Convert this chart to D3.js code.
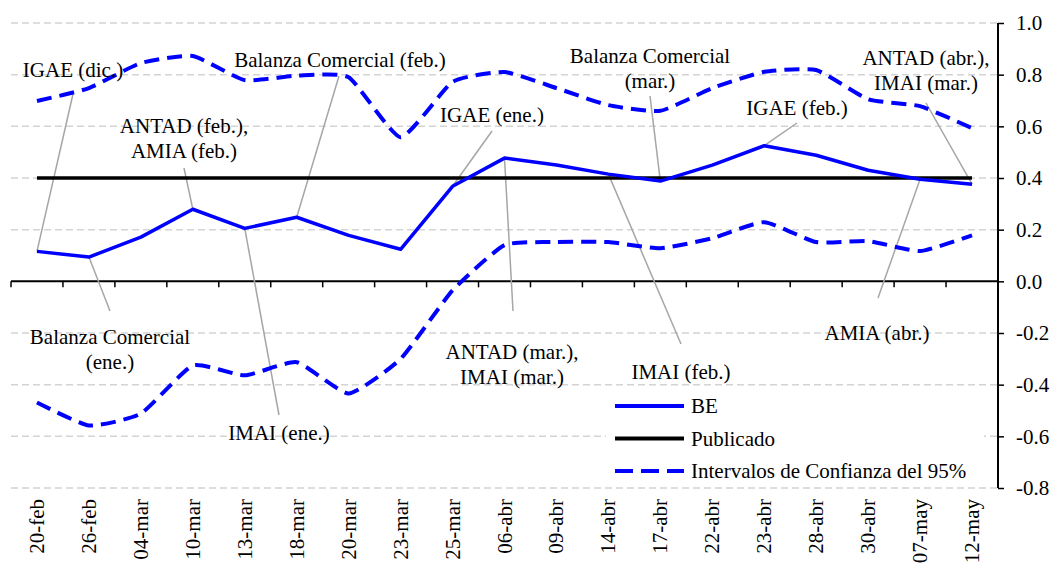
<!DOCTYPE html>
<html>
<head>
<meta charset="utf-8">
<script src="https://cdn.jsdelivr.net/npm/d3@7/dist/d3.min.js"></script>
<style>
  body { margin: 0; background: #fff; }
  svg { display: block; font-family: 'Liberation Serif', 'Times New Roman', serif; }
</style>
</head>
<body>
<script>
const width = 1052;
const height = 563;

const categories = ['20-feb', '26-feb', '04-mar', '10-mar', '13-mar', '18-mar', '20-mar', '23-mar', '25-mar',
  '06-abr', '09-abr', '14-abr', '17-abr', '22-abr', '23-abr', '28-abr', '30-abr', '07-may', '12-may'];

const be = [0.116, 0.094, 0.171, 0.279, 0.205, 0.248, 0.178, 0.124, 0.368,
  0.477, 0.450, 0.415, 0.388, 0.450, 0.525, 0.488, 0.430, 0.395, 0.376];

const publicado = categories.map(function () { return 0.4; });

const upper = [0.698, 0.748, 0.845, 0.872, 0.779, 0.796, 0.790, 0.558, 0.772,
  0.810, 0.748, 0.682, 0.660, 0.748, 0.811, 0.818, 0.705, 0.678, 0.593];

const lower = [-0.469, -0.558, -0.512, -0.326, -0.364, -0.313, -0.434, -0.300, -0.035,
  0.140, 0.152, 0.152, 0.128, 0.167, 0.229, 0.152, 0.156, 0.117, 0.178];

const yTicks = [-0.8, -0.6, -0.4, -0.2, 0.0, 0.2, 0.4, 0.6, 0.8, 1.0];

// annotation texts and the date they point at
const notes = [
  { cat: '20-feb', lines: ['IGAE (dic.)'] },
  { cat: '18-mar', lines: ['Balanza Comercial (feb.)'] },
  { cat: '10-mar', lines: ['ANTAD (feb.),', 'AMIA (feb.)'] },
  { cat: '25-mar', lines: ['IGAE (ene.)'] },
  { cat: '17-abr', lines: ['Balanza Comercial', '(mar.)'] },
  { cat: '23-abr', lines: ['IGAE (feb.)'] },
  { cat: '12-may', lines: ['ANTAD (abr.),', 'IMAI (mar.)'] },
  { cat: '26-feb', lines: ['Balanza Comercial', '(ene.)'] },
  { cat: '13-mar', lines: ['IMAI (ene.)'] },
  { cat: '06-abr', lines: ['ANTAD (mar.),', 'IMAI (mar.)'] },
  { cat: '14-abr', lines: ['IMAI (feb.)'] },
  { cat: '07-may', lines: ['AMIA (abr.)'] }
];

// where each label sits (text centre x, first line y, leader end)
const noteLayout = [
  { tx: 73, ty: 70, ex: 73, ey: 94 },
  { tx: 340, ty: 60, ex: 339, ey: 76 },
  { tx: 184, ty: 126, ex: 184, ey: 168 },
  { tx: 492, ty: 115, ex: 492, ey: 131 },
  { tx: 650, ty: 56, ex: 650, ey: 96 },
  { tx: 797, ty: 108, ex: 797, ey: 123 },
  { tx: 926, ty: 58, ex: 926, ey: 103 },
  { tx: 110, ty: 337, ex: 110, ey: 311 },
  { tx: 279, ty: 433, ex: 279, ey: 415 },
  { tx: 512, ty: 352, ex: 513, ey: 311 },
  { tx: 681, ty: 372, ex: 681, ey: 344 },
  { tx: 877, ty: 333, ex: 878, ey: 298 }
];

const plotLeft = 11;
const plotRight = 998;
const plotTop = 23;
const plotBottom = 488;
const fontSize = 21;
const serif = "'Liberation Serif', 'Times New Roman', serif";

const svg = d3.select('body').append('svg').attr('width', width).attr('height', height);

const x = d3.scaleBand().domain(categories).range([plotLeft, plotRight]).padding(0);
const y = d3.scaleLinear().domain([-0.8, 1.0]).range([plotBottom, plotTop]);
const cx = function (c) { return x(c) + x.bandwidth() / 2; };

// gridlines
svg.append('g')
  .selectAll('line')
  .data(yTicks.filter(function (t) { return t !== 0; }))
  .enter()
  .append('line')
  .attr('x1', plotLeft)
  .attr('x2', plotRight)
  .attr('y1', function (d) { return y(d); })
  .attr('y2', function (d) { return y(d); })
  .attr('stroke', '#d4d4d4')
  .attr('stroke-width', 1.5)
  .attr('stroke-dasharray', '7,4');

// zero axis with ticks at band edges
svg.append('line')
  .attr('x1', plotLeft).attr('x2', plotRight)
  .attr('y1', y(0)).attr('y2', y(0))
  .attr('stroke', '#000').attr('stroke-width', 2);

svg.append('g')
  .selectAll('line')
  .data(categories)
  .enter()
  .append('line')
  .attr('x1', function (d) { return x(d); })
  .attr('x2', function (d) { return x(d); })
  .attr('y1', y(0))
  .attr('y2', y(0) + 6)
  .attr('stroke', '#000')
  .attr('stroke-width', 1.5);

// right axis
const yAxis = d3.axisRight(y)
  .tickValues(yTicks)
  .tickSize(6)
  .tickPadding(12)
  .tickFormat(function (d) { return d3.format('.1f')(d).replace('\u2212', '-'); });

const ya = svg.append('g').attr('transform', 'translate(' + plotRight + ',0)').call(yAxis);
ya.attr('font-family', serif).attr('font-size', fontSize);
ya.select('.domain').attr('stroke', '#000').attr('stroke-width', 2).attr('d', 'M0,' + plotTop + 'V' + plotBottom);
ya.selectAll('.tick line').attr('stroke', '#000').attr('stroke-width', 1.5);
ya.selectAll('.tick text').attr('fill', '#000');

// x labels
svg.append('g')
  .attr('font-family', serif)
  .attr('font-size', fontSize)
  .selectAll('text')
  .data(categories)
  .enter()
  .append('text')
  .attr('transform', function (d) { return 'translate(' + (cx(d) + 7) + ',499) rotate(-90)'; })
  .attr('text-anchor', 'end')
  .text(function (d) { return d; });

// leader lines
svg.append('g')
  .selectAll('line')
  .data(notes)
  .enter()
  .append('line')
  .attr('x1', function (d) { return cx(d.cat); })
  .attr('y1', function (d) { return y(be[categories.indexOf(d.cat)]); })
  .attr('x2', function (d, i) { return noteLayout[i].ex; })
  .attr('y2', function (d, i) { return noteLayout[i].ey; })
  .attr('stroke', '#a6a6a6')
  .attr('stroke-width', 1.5);

const straight = d3.line()
  .x(function (d, i) { return cx(categories[i]); })
  .y(function (d) { return y(d); });

const smooth = d3.line()
  .x(function (d, i) { return cx(categories[i]); })
  .y(function (d) { return y(d); })
  .curve(d3.curveCardinal.tension(0.5));

svg.append('path').datum(publicado)
  .attr('d', straight)
  .attr('fill', 'none').attr('stroke', '#000').attr('stroke-width', 3.5);

[upper, lower].forEach(function (s) {
  svg.append('path').datum(s)
    .attr('d', smooth)
    .attr('fill', 'none')
    .attr('stroke', '#0000ff')
    .attr('stroke-width', 4)
    .attr('stroke-dasharray', '15,8');
});

svg.append('path').datum(be)
  .attr('d', straight)
  .attr('fill', 'none')
  .attr('stroke', '#0000ff')
  .attr('stroke-width', 3.5)
  .attr('stroke-linejoin', 'round');

// annotation texts
notes.forEach(function (n, i) {
  const l = noteLayout[i];
  const t = svg.append('text')
    .attr('text-anchor', 'middle')
    .attr('font-family', serif)
    .attr('font-size', fontSize);
  n.lines.forEach(function (s, j) {
    t.append('tspan')
      .attr('x', l.tx)
      .attr('y', l.ty + j * 25)
      .attr('dy', '0.35em')
      .text(s);
  });
});

// legend
const legendItems = [
  { name: 'BE', color: '#0000ff', dash: null },
  { name: 'Publicado', color: '#000', dash: null },
  { name: 'Intervalos de Confianza del 95%', color: '#0000ff', dash: '18,8' }
];

const lg = svg.append('g').attr('font-family', serif).attr('font-size', fontSize);
lg.append('rect').attr('x', 606).attr('y', 392).attr('width', 378).attr('height', 92).attr('fill', '#fff');
legendItems.forEach(function (d, i) {
  const yy = 406 + i * 32.5;
  lg.append('line')
    .attr('x1', 615).attr('x2', 684)
    .attr('y1', yy).attr('y2', yy)
    .attr('stroke', d.color)
    .attr('stroke-width', 4)
    .attr('stroke-dasharray', d.dash);
  lg.append('text')
    .attr('x', 691).attr('y', yy).attr('dy', '0.35em')
    .text(d.name);
});
</script>
</body>
</html>
